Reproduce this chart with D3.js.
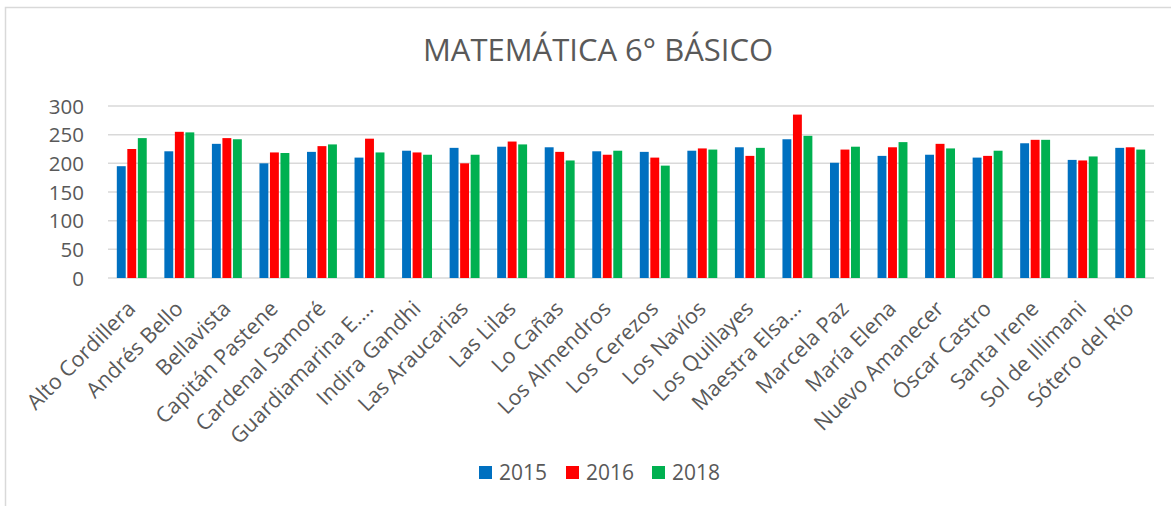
<!DOCTYPE html>
<html>
<head>
<meta charset="utf-8">
<script src="https://cdn.jsdelivr.net/npm/d3@7"></script>
<style>
  html, body { margin: 0; padding: 0; background: #fff; }
  svg { display: block; }
  text { font-family: "Open Sans", sans-serif; fill: #595959; }
</style>
</head>
<body>
<div id="chart"></div>
<script>
const categories = ["Alto Cordillera","Andrés Bello","Bellavista","Capitán Pastene","Cardenal Samoré","Guardiamarina E.…","Indira Gandhi","Las Araucarias","Las Lilas","Lo Cañas","Los Almendros","Los Cerezos","Los Navíos","Los Quillayes","Maestra Elsa…","Marcela Paz","María Elena","Nuevo Amanecer","Óscar Castro","Santa Irene","Sol de Illimani","Sótero del Río"];
const seriesNames = ["2015", "2016", "2018"];
const values2015 = [195, 221, 234, 200, 220, 210, 222, 227, 229, 228, 221, 220, 222, 228, 242, 201, 213, 215, 210, 235, 206, 227];
const values2016 = [225, 255, 244, 219, 230, 243, 219, 200, 238, 220, 215, 210, 226, 213, 285, 224, 228, 234, 213, 241, 205, 228];
const values2018 = [244, 254, 242, 218, 233, 219, 215, 215, 233, 205, 222, 196, 224, 227, 248, 229, 237, 226, 222, 241, 212, 224];
const yTicks = [0, 50, 100, 150, 200, 250, 300];
const colors = ["#0070C0", "#FF0000", "#00B050"];
const title = "MATEMÁTICA 6° BÁSICO";

const seriesValues = [values2015, values2016, values2018];

const W = 1171, H = 506;
const svg = d3.select("#chart").append("svg").attr("width", W).attr("height", H);

// chart border (top & left visible)
svg.append("path")
  .attr("d", `M5.5,${H} L5.5,7.5 L${W},7.5`)
  .attr("fill", "none").attr("stroke", "#d9d9d9").attr("stroke-width", 1.5);

const plot = { left: 108, right: 1154, top: 106, bottom: 278 };

const x0 = d3.scaleBand().domain(categories).range([plot.left, plot.right])
  .paddingInner(0.337).paddingOuter(0.1685);
const x1 = d3.scaleBand().domain(seriesNames).range([0, x0.bandwidth()]);
const y = d3.scaleLinear().domain([0, 300]).range([plot.bottom, plot.top]);

// gridlines
svg.append("g").selectAll("line").data(yTicks).join("line")
  .attr("x1", plot.left).attr("x2", plot.right)
  .attr("y1", d => y(d)).attr("y2", d => y(d))
  .attr("stroke", "#d9d9d9").attr("stroke-width", 1.5);

// y axis labels
const yAxis = d3.axisLeft(y).tickValues(yTicks).tickSize(0).tickPadding(0);
const yg = svg.append("g").attr("transform", `translate(84,0)`).call(yAxis);
yg.select(".domain").remove();
yg.selectAll("text").attr("font-size", 20.5).attr("fill", "#595959")
  .attr("font-family", "Open Sans, sans-serif").attr("dy", "0.35em");

// bars
const groups = svg.append("g").selectAll("g").data(categories).join("g")
  .attr("transform", d => `translate(${x0(d)},0)`);
groups.selectAll("rect")
  .data((d, i) => seriesNames.map((s, k) => ({ s, k, v: seriesValues[k][i] })))
  .join("rect")
  .attr("x", d => x1(d.s) + 0.8)
  .attr("width", x1.bandwidth() - 1.6)
  .attr("y", d => y(d.v))
  .attr("height", d => y(0) - y(d.v))
  .attr("fill", d => colors[d.k]);

// x labels
svg.append("g").selectAll("text").data(categories).join("text")
  .attr("transform", d => `translate(${x0(d) + x0.bandwidth() / 2 + 5},310) rotate(-45)`)
  .attr("text-anchor", "end")
  .attr("font-size", 21.5)
  .text(d => d);

// title
svg.append("text").attr("x", 598).attr("y", 61).attr("text-anchor", "middle")
  .attr("font-size", 31).text(title);

// legend
const legX = [479, 566, 652];
const leg = svg.append("g").selectAll("g").data(seriesNames).join("g")
  .attr("transform", (d, i) => `translate(${legX[i]},466)`);
leg.append("rect").attr("width", 13).attr("height", 13).attr("fill", (d, i) => colors[i]);
leg.append("text").attr("x", 20).attr("y", 14).attr("font-size", 21).text(d => d);
</script>
</body>
</html>
